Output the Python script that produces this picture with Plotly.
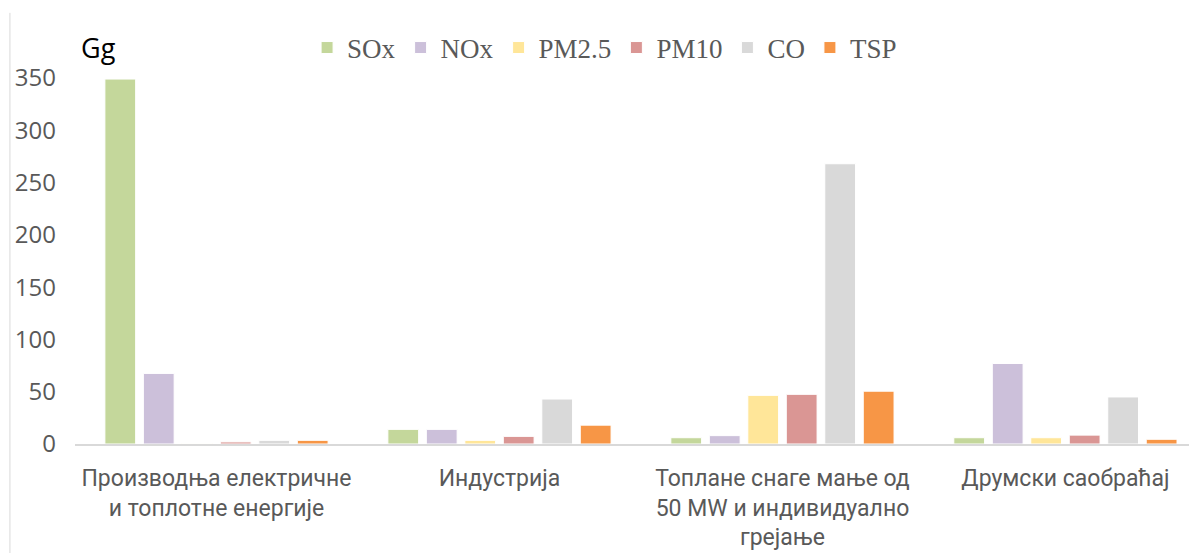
import plotly.graph_objects as go

# sectors (x axis categories)
categories = [
    "Производња електричне<br>и топлотне енергије",
    "Индустрија",
    "Топлане снаге мање од<br>50 MW и индивидуално<br>грејање",
    "Друмски саобраћај",
]

# emissions in Gg
pollutants = ["SOx", "NOx", "PM2.5", "PM10", "CO", "TSP"]
sox = [349, 14, 6, 6]
nox = [67.5, 14, 8, 77]
pm25 = [0.4, 3.5, 46.5, 6]
pm10 = [2, 7.3, 47.5, 8.5]
co = [3.5, 43, 268, 45]
tsp = [3.5, 18, 50.5, 4.5]

colors = ["#c4d79b", "#ccc0da", "#ffe699", "#da9694", "#d9d9d9", "#f79646"]
series = [sox, nox, pm25, pm10, co, tsp]

fig = go.Figure()
for name, vals, col in zip(pollutants, series, colors):
    fig.add_trace(go.Bar(
        x=categories,
        y=vals,
        name=name,
        marker=dict(color=col, line=dict(color="white", width=1)),
    ))

# the page body adds an 8px offset, so the figure is 8px smaller than the window
fig.update_layout(
    width=1189,
    height=545,
    barmode="group",
    bargap=0.184,
    bargroupgap=0.2,
    plot_bgcolor="white",
    paper_bgcolor="white",
    margin=dict(l=67, r=0, t=70, b=109),
    legend=dict(
        orientation="h",
        x=0.472, xanchor="center",
        y=1.082, yanchor="middle",
        font=dict(family="Liberation Serif", size=27, color="#595959"),
        itemwidth=30,
        tracegroupgap=0,
    ),
    annotations=[dict(
        text="Gg", xref="paper", yref="paper",
        x=0.004, y=1.082, xanchor="left", yanchor="middle",
        showarrow=False,
        font=dict(family="Open Sans", size=27, color="#000000"),
    )],
    shapes=[dict(
        type="line", xref="paper", yref="paper",
        x0=-0.058, x1=-0.058, y0=1.178, y1=-0.3,
        line=dict(color="#d9d9d9", width=1),
    )],
)

fig.update_xaxes(
    range=[-0.5, 3.465],
    showline=True, linecolor="#d9d9d9", linewidth=2,
    showgrid=False, ticks="",
    tickfont=dict(family="Roboto", size=23, color="#595959"),
    ticklabelstandoff=12,
)
fig.update_yaxes(
    range=[0, 350],
    dtick=50,
    showgrid=False, zeroline=False, showline=False, ticks="",
    tickfont=dict(family="Open Sans", size=24, color="#595959"),
    ticklabelstandoff=18,
)

fig.write_html("out.html")
